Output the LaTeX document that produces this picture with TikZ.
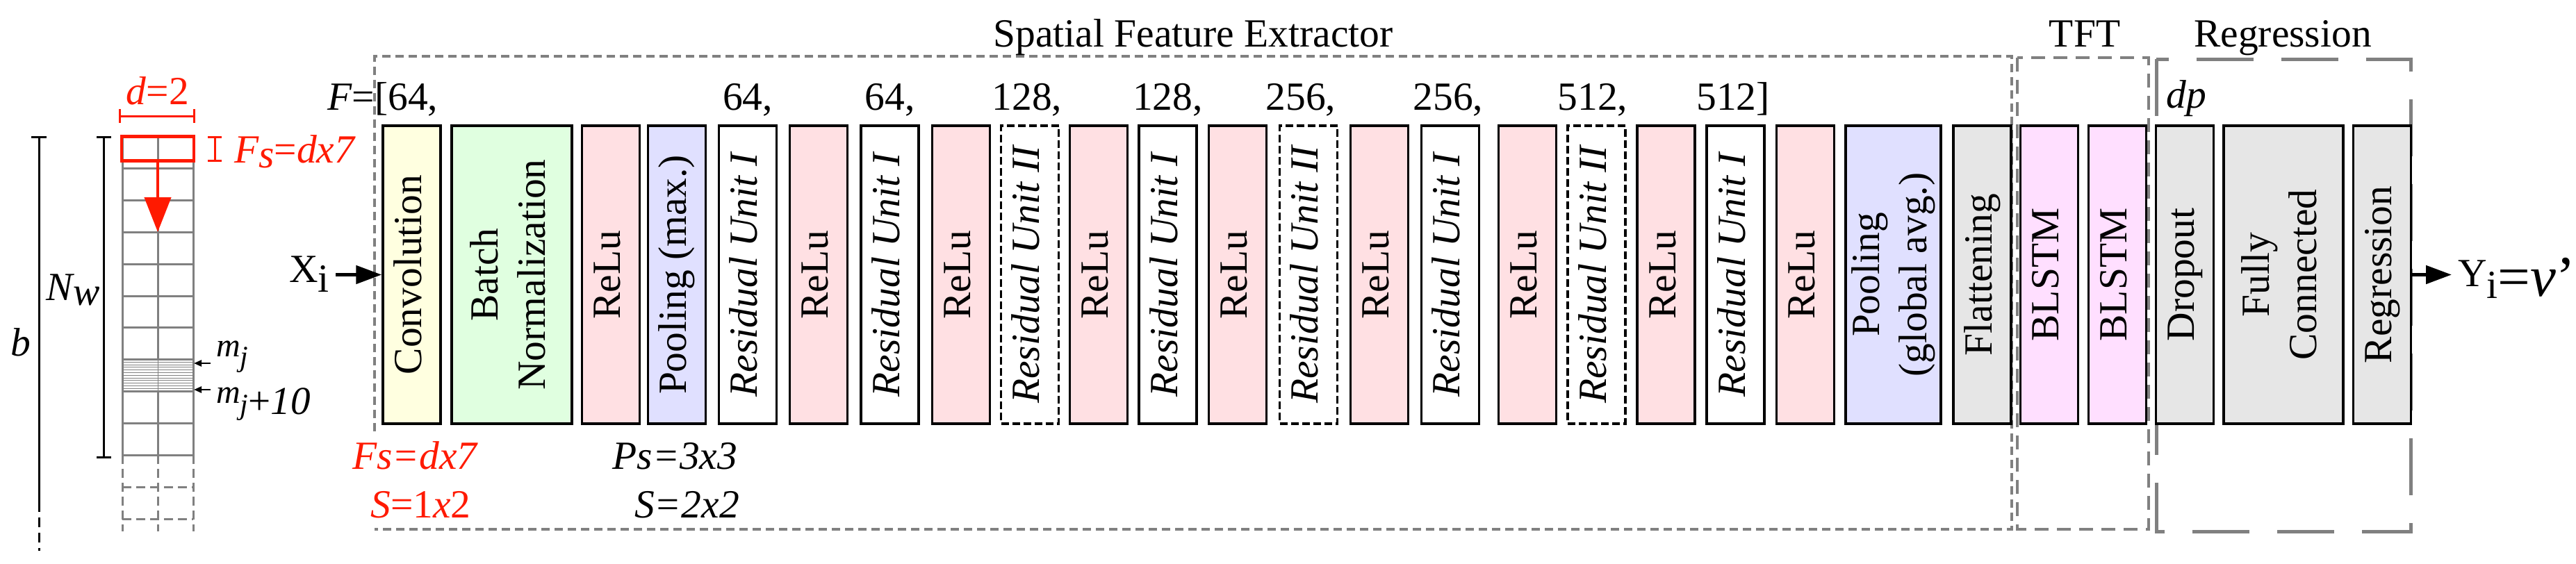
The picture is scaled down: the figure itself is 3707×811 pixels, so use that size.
\documentclass[tikz,border=0pt]{standalone}
\usepackage{fontspec}
\setmainfont{Liberation Serif}
\usetikzlibrary{arrows.meta}
\definecolor{cyel}{HTML}{FFFFE0}
\definecolor{cgrn}{HTML}{E0FFE0}
\definecolor{cpnk}{HTML}{FFE0E3}
\definecolor{cblu}{HTML}{E0E0FF}
\definecolor{cgry}{HTML}{E6E6E6}
\definecolor{cmag}{HTML}{FFDFFF}
\definecolor{lgry}{HTML}{808080}
\definecolor{myred}{HTML}{FF1A00}
\newcommand\vlab[1]{\rotatebox{90}{\begin{tabular}{@{}c@{}}#1\end{tabular}}}
\newcommand\myresI{\vlab{\itshape Residual Unit I}}
\newcommand\myresII{\vlab{\itshape Residual Unit II}}
\begin{document}
\begin{tikzpicture}[x=1pt,y=-1pt,
  font=\fontsize{57.5}{68}\selectfont,
  blk/.style={draw=black,line width=3.5pt,minimum width=83pt,minimum height=429pt,inner sep=0pt},
  dblk/.style={blk,dash pattern=on 11pt off 5pt,line width=3.3pt,fill=white},
  grp/.style={draw=lgry,line width=4pt},
  gl/.style={draw=lgry,line width=3pt},
  arr/.style={line width=5pt,-{Triangle[length=37pt,width=26pt]}},
  txt/.style={inner sep=0pt,anchor=base},
  dim/.style={line width=3pt}]
\useasboundingbox (0,0) rectangle (3707,811);

% ---------- group frames ----------
\draw[grp,dash pattern=on 12pt off 7pt] (539,621) -- (539,81) -- (2895,81) -- (2895,762) -- (539,762);
\draw[grp,line width=4.5pt,dash pattern=on 20pt off 12pt] (2903,83) rectangle (3092,762);
\draw[grp,line width=5pt,dash pattern=on 82pt off 40pt] (3103,85) rectangle (3469,765);
\node[txt] (tsfe) at (1717,67) {Spatial Feature Extractor};
\node[txt] (ttft) at (3000,67) {TFT};
\node[txt] (treg) at (3285,67) {Regression};

% ---------- blocks ----------
\node[blk,fill=cyel] (conv) at (592.5,395.5) {\vlab{Convolution}};
\node[blk,fill=cgrn,minimum width=173pt] (bn) at (736.5,395.5) {\vlab{Batch\\Normalization}};
\node[blk,fill=cpnk] (r1) at (879,395.5) {\vlab{ReLu}};
\node[blk,fill=cblu] (pmax) at (974,395.5) {\vlab{Pooling (max.)}};
\node[blk,fill=white] (ru1) at (1076,395.5) {\myresI};
\node[blk,fill=cpnk] (r2) at (1178,395.5) {\vlab{ReLu}};
\node[blk,fill=white] (ru2) at (1280.5,395.5) {\myresI};
\node[blk,fill=cpnk] (r3) at (1383,395.5) {\vlab{ReLu}};
\node[dblk] (rv1) at (1482,395.5) {\myresII};
\node[blk,fill=cpnk] (r4) at (1581,395.5) {\vlab{ReLu}};
\node[blk,fill=white] (ru3) at (1680.5,395.5) {\myresI};
\node[blk,fill=cpnk] (r5) at (1781,395.5) {\vlab{ReLu}};
\node[dblk] (rv2) at (1883,395.5) {\myresII};
\node[blk,fill=cpnk] (r6) at (1985,395.5) {\vlab{ReLu}};
\node[blk,fill=white] (ru4) at (2087,395.5) {\myresI};
\node[blk,fill=cpnk] (r7) at (2198,395.5) {\vlab{ReLu}};
\node[dblk] (rv3) at (2297.5,395.5) {\myresII};
\node[blk,fill=cpnk] (r8) at (2397.5,395.5) {\vlab{ReLu}};
\node[blk,fill=white] (ru5) at (2497.5,395.5) {\myresI};
\node[blk,fill=cpnk] (r9) at (2598,395.5) {\vlab{ReLu}};
\node[blk,fill=cblu,minimum width=137pt] (pavg) at (2724.5,395.5) {\vlab{Pooling\\(global avg.)}};
\node[blk,fill=cgry] (flat) at (2852.5,395.5) {\vlab{Flattening}};
\node[blk,fill=cmag] (bl1) at (2949,395.5) {\vlab{BLSTM}};
\node[blk,fill=cmag] (bl2) at (3047,395.5) {\vlab{BLSTM}};
\node[blk,fill=cgry] (drop) at (3144,395.5) {\vlab{Dropout}};
\node[blk,fill=cgry,minimum width=172pt] (fc) at (3286,395.5) {\vlab{Fully\\Connected}};
\node[blk,fill=cgry] (regr) at (3428,395.5) {\vlab{Regression}};

% ---------- filter numbers ----------
\node[txt,anchor=base west] (fl) at (471,158) {\textit{F}=[64,};
\node[txt] (f2) at (1076,158) {64,};
\node[txt] (f3) at (1280.5,158) {64,};
\node[txt] (f4) at (1478,158) {128,};
\node[txt] (f5) at (1680.5,158) {128,};
\node[txt] (f6) at (1872,158) {256,};
\node[txt] (f7) at (2084,158) {256,};
\node[txt] (f8) at (2292,158) {512,};
\node[txt] (f9) at (2494,158) {512]};
\node[txt] (dp) at (3146,155) {\textit{dp}};

% ---------- bottom parameters ----------
\node[txt,text=myred] (fs1) at (598,675) {\textit{Fs=dx7}};
\node[txt,text=myred] (s1) at (605.5,745) {\textit{S}=1\textit{x}2};
\node[txt] (ps) at (971.5,675) {\textit{Ps=3x3}};
\node[txt] (s2) at (988.5,745) {\textit{S=2x2}};

% ---------- input / output ----------
\node[txt,anchor=base east] (xi) at (474,406) {X\raisebox{-14pt}{i}};
\draw[arr] ([xshift=9pt]conv.west -| xi.east) -- (conv.west);
\node[txt,anchor=base west] (yi) at (3537,412) {Y\raisebox{-17pt}{i}\raisebox{-14pt}{\fontsize{83}{83}\selectfont=\textit{v}’}};
\draw[arr,shorten >=9pt] (regr.east) -- (regr.east -| yi.west);

% ---------- input grid ----------
\foreach \yy in {242.8,288.6,334.4,380.2,426,471.8,517.6,563.4,609.2,655}
  \draw[gl] (176,\yy) -- (278,\yy);
\draw[gl] (176,197) -- (176,655);
\draw[gl] (278,197) -- (278,655);
\draw[gl] (227,197) -- (227,517.6);
\draw[gl] (227,563.4) -- (227,655);
\draw[lgry,line width=1pt] (227,517.6) -- (227,563.4);
\foreach \k in {0,...,10}
  \draw[lgry,line width=1pt] (176,521.4+3.78*\k) -- (278,521.4+3.78*\k);
\draw[gl,dash pattern=on 13pt off 7pt] (176,655) -- (176,765);
\draw[gl,dash pattern=on 13pt off 7pt] (227,655) -- (227,765);
\draw[gl,dash pattern=on 13pt off 7pt] (278,655) -- (278,765);
\draw[gl,dash pattern=on 13pt off 7pt] (176,701) -- (278,701);
\draw[gl,dash pattern=on 13pt off 7pt] (176,747) -- (278,747);

% filter window
\node[draw=myred,line width=4.5pt,minimum width=104pt,minimum height=35pt,inner sep=0pt] (win) at (227,214) {};
\coordinate (wend) at (227,334);
\draw[myred,line width=4.5pt,-{Triangle[length=50pt,width=38pt]}] (win.south) -- (wend);

% d=2 dimension
\draw[myred,dim] (172.5,167) -- (279.5,167);
\draw[myred,dim] (172.5,157) -- (172.5,177);
\draw[myred,dim] (279.5,157) -- (279.5,177);
\node[txt,text=myred] (dl) at (227,150) {\textit{d}=2};

% Fs bracket
\draw[myred,dim] (309,197) -- (309,231);
\draw[myred,dim] (299,197) -- (319,197);
\draw[myred,dim] (299,231) -- (319,231);
\node[txt,anchor=base west,text=myred] (fsl) at (337,234) {\itshape F\raisebox{-7pt}{s}\upshape=\itshape dx7};

% Nw and b
\draw[dim] (149,197) -- (149,658);
\draw[dim] (139,197) -- (160,197);
\draw[dim] (139,658) -- (160,658);
\node[txt] (nw) at (105,432) {\itshape N\raisebox{-7pt}{w}};
\draw[dim] (56,197) -- (56,723);
\draw[dim,dash pattern=on 14pt off 8pt] (56,723) -- (56,793);
\draw[dim] (45,197) -- (67,197);
\node[txt] (bl) at (30,512) {\textit{b}};

% m_j markers
\node[txt,anchor=base west,font=\fontsize{48}{48}\selectfont] (mj) at (311,513) {\itshape m\raisebox{-14pt}{\fontsize{42}{42}\selectfont j}};
\node[txt,anchor=base west,font=\fontsize{48}{48}\selectfont] (mj10) at (311,580) {\itshape m\raisebox{-16pt}{\fontsize{42}{42}\selectfont j\fontsize{57}{57}\selectfont\upshape+\itshape 10}};
\coordinate (g1) at (279,523);
\coordinate (g2) at (279,561);
\draw[line width=2.5pt,-{Triangle[length=11pt,width=9pt]}] ([xshift=-8pt]mj.west |- g1) -- (g1);
\draw[line width=2.5pt,-{Triangle[length=11pt,width=9pt]}] ([xshift=-8pt]mj10.west |- g2) -- (g2);
\end{tikzpicture}
\end{document}
